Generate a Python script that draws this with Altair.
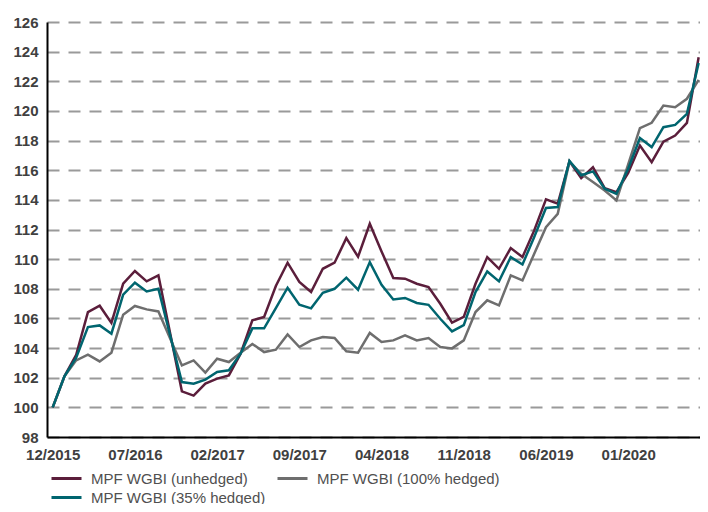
import altair as alt
import pandas as pd

tick_labels = ["12/2015", "07/2016", "02/2017", "09/2017", "04/2018", "11/2018", "06/2019", "01/2020"]
series_names = ["MPF WGBI (unhedged)", "MPF WGBI (100% hedged)", "MPF WGBI (35% hedged)"]
series_colors = ["#5B1E3B", "#6E6E6E", "#00656F"]

unhedged = [100.0, 102.1, 103.55, 106.43, 106.86, 105.7, 108.34, 109.2, 108.5, 108.9,
            105.0, 101.08, 100.79, 101.6, 101.94, 102.16, 103.62, 105.87, 106.1, 108.19,
            109.76, 108.46, 107.78, 109.35, 109.76, 111.42, 110.16, 112.39, 110.52, 108.73,
            108.68, 108.34, 108.12, 106.99, 105.71, 106.1, 108.34, 110.14, 109.35, 110.75,
            110.14, 111.94, 114.03, 113.74, 116.6, 115.46, 116.2, 114.79, 114.52, 115.82,
            117.66, 116.54, 117.93, 118.34, 119.19, 123.62]

hedged100 = [100.0, 102.1, 103.17, 103.55, 103.1, 103.69, 106.25, 106.84, 106.61, 106.47,
             104.65, 102.83, 103.17, 102.34, 103.28, 103.06, 103.68, 104.28, 103.73, 103.89,
             104.92, 104.07, 104.52, 104.75, 104.68, 103.78, 103.69, 105.02, 104.41, 104.52,
             104.86, 104.52, 104.68, 104.07, 103.98, 104.52, 106.43, 107.22, 106.88, 108.9,
             108.56, 110.36, 112.16, 113.06, 116.58, 115.76, 115.2, 114.63, 113.96, 116.4,
             118.84, 119.2, 120.36, 120.25, 120.82, 122.1]

hedged35 = [100.0, 102.1, 103.35, 105.42, 105.53, 104.97, 107.6, 108.41, 107.82, 108.0,
            104.86, 101.71, 101.6, 101.87, 102.39, 102.5, 103.62, 105.33, 105.33, 106.7,
            108.07, 106.92, 106.68, 107.73, 108.0, 108.75, 107.94, 109.8, 108.27, 107.28,
            107.38, 107.04, 106.92, 105.98, 105.12, 105.55, 107.78, 109.17, 108.5, 110.14,
            109.64, 111.49, 113.45, 113.51, 116.62, 115.66, 115.92, 114.75, 114.41, 116.1,
            118.17, 117.56, 118.9, 119.06, 119.8, 123.24]

rows = []
for order, (name, vals) in enumerate(zip(series_names, [unhedged, hedged100, hedged35])):
    for i, v in enumerate(vals):
        rows.append({"i": i, "value": v, "series": name, "k": order})
df = pd.DataFrame(rows)

label_expr = "[" + ",".join("'" + t + "'" for t in tick_labels) + "][round(datum.value / 7)]"
FONT = "Liberation Sans"

chart = alt.Chart(df).mark_line(strokeWidth=2.5).encode(
    x=alt.X("i:Q",
            scale=alt.Scale(domain=[-0.485, 55.115], nice=False, zero=False),
            axis=alt.Axis(values=[0, 7, 14, 21, 28, 35, 42, 49], labelExpr=label_expr,
                          title=None, grid=False, ticks=False, domainColor="#000000",
                          domainWidth=2, labelFont=FONT, labelFontSize=15,
                          labelFontWeight="bold", labelColor="#404040", labelPadding=10,
                          labelFlush=False, labelOverlap=False)),
    y=alt.Y("value:Q",
            scale=alt.Scale(domain=[98, 126], nice=False, zero=False),
            axis=alt.Axis(values=list(range(98, 127, 2)), title=None, grid=True,
                          gridDash=[12, 9], gridColor="#9A9A9A", gridWidth=2,
                          ticks=False, domainColor="#000000", domainWidth=2,
                          labelFont=FONT, labelFontSize=15, labelFontWeight="bold",
                          labelColor="#404040", labelPadding=9, labelOverlap=False)),
    color=alt.Color("series:N",
                    scale=alt.Scale(domain=series_names, range=series_colors),
                    legend=alt.Legend(title=None, orient="none", legendX=9, legendY=446,
                                      direction="horizontal", columns=2, gridAlign="none",
                                      columnPadding=5, rowPadding=0,
                                      symbolType="M-1.667,0H1.667", symbolSize=324,
                                      symbolStrokeWidth=3, labelOffset=14,
                                      labelFont=FONT, labelFontSize=15,
                                      labelColor="#505050", labelLimit=400)),
    order=alt.Order("k:Q"),
).properties(
    width=653, height=415,
    padding={"left": 39, "top": 14, "right": 0, "bottom": 67},
    autosize=alt.AutoSizeParams(type="none"),
).configure_view(stroke=None)

chart.save("out.html", embed_options={"renderer": "svg", "actions": False})
